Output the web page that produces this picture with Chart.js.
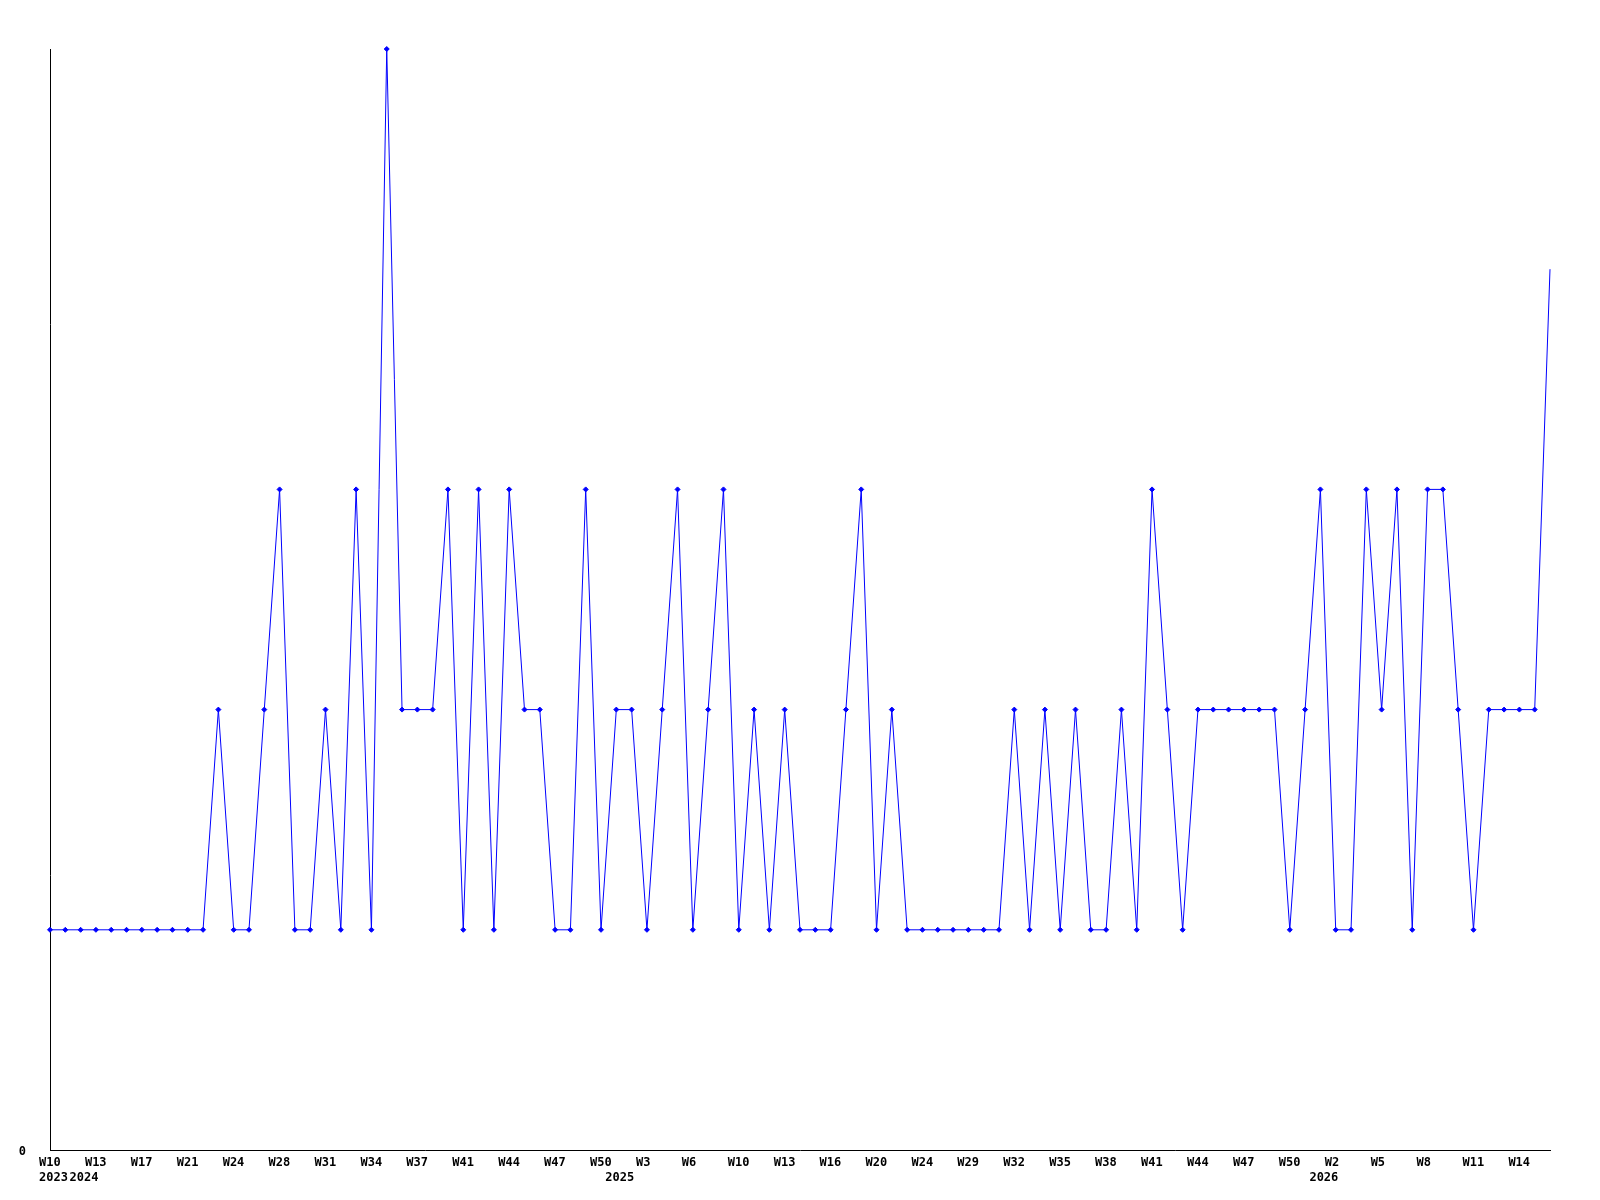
<!DOCTYPE html>
<html>
<head>
<meta charset="utf-8">
<script src="https://cdn.jsdelivr.net/npm/chart.js@4.4.1/dist/chart.umd.min.js"></script>
<style>
  html, body { margin: 0; padding: 0; background: #fff; }
  #chart { display: block; }
</style>
</head>
<body>
<canvas id="chart" width="1600" height="1200"></canvas>
<script>
// one entry per data point, ISO year + week
const periods = [
    '2023-W10', '2023-W45', '2024-W12', '2024-W13', '2024-W14', '2024-W16', '2024-W17', '2024-W18', '2024-W19', '2024-W21',
    '2024-W22', '2024-W23', '2024-W24', '2024-W26', '2024-W27', '2024-W28', '2024-W29', '2024-W30', '2024-W31', '2024-W32',
    '2024-W33', '2024-W34', '2024-W35', '2024-W36', '2024-W37', '2024-W38', '2024-W39', '2024-W41', '2024-W42', '2024-W43',
    '2024-W44', '2024-W45', '2024-W46', '2024-W47', '2024-W48', '2024-W49', '2024-W50', '2025-W1', '2025-W2', '2025-W3',
    '2025-W4', '2025-W5', '2025-W6', '2025-W8', '2025-W9', '2025-W10', '2025-W11', '2025-W12', '2025-W13', '2025-W14',
    '2025-W15', '2025-W16', '2025-W17', '2025-W19', '2025-W20', '2025-W21', '2025-W23', '2025-W24', '2025-W26', '2025-W27',
    '2025-W29', '2025-W30', '2025-W31', '2025-W32', '2025-W33', '2025-W34', '2025-W35', '2025-W36', '2025-W37', '2025-W38',
    '2025-W39', '2025-W40', '2025-W41', '2025-W42', '2025-W43', '2025-W44', '2025-W45', '2025-W46', '2025-W47', '2025-W48',
    '2025-W49', '2025-W50', '2025-W51', '2026-W1', '2026-W2', '2026-W3', '2026-W4', '2026-W5', '2026-W6', '2026-W7',
    '2026-W8', '2026-W9', '2026-W10', '2026-W11', '2026-W12', '2026-W13', '2026-W14', '2026-W15', '2026-W16'
];

const counts = [
    1, 1, 1, 1, 1, 1, 1, 1, 1, 1,
    1, 2, 1, 1, 2, 3, 1, 1, 2, 1,
    3, 1, 5, 2, 2, 2, 3, 1, 3, 1,
    3, 2, 2, 1, 1, 3, 1, 2, 2, 1,
    2, 3, 1, 2, 3, 1, 2, 1, 2, 1,
    1, 1, 2, 3, 1, 2, 1, 1, 1, 1,
    1, 1, 1, 2, 1, 2, 1, 2, 1, 1,
    2, 1, 3, 2, 1, 2, 2, 2, 2, 2,
    2, 1, 2, 3, 1, 1, 3, 2, 3, 1,
    3, 3, 2, 1, 2, 2, 2, 2, 4
];

const yTicks = [0];
const yMax = 5;
const labelEvery = 3;

const weekLabels = periods.map(p => p.split('-')[1]);
const yearLabels = periods.map(p => p.split('-')[0]);

// year only shown where it changes
function yearTick(i) {
    if (i === 0 || yearLabels[i] !== yearLabels[i - 1]) return yearLabels[i];
    return '';
}

const tickFont = { family: 'DejaVu Sans Mono', size: 12, weight: 'bold' };

// last point has no marker in the original
const radii = counts.map((v, i) => i === counts.length - 1 ? 0 : 2.5);

new Chart(document.getElementById('chart').getContext('2d'), {
    type: 'line',
    data: {
        labels: weekLabels,
        datasets: [{
            data: counts,
            borderColor: '#0000ff',
            backgroundColor: '#0000ff',
            borderWidth: 1,
            pointStyle: 'rectRot',
            pointRadius: radii,
            pointBorderWidth: 1,
            pointBackgroundColor: '#0000ff',
            pointBorderColor: '#0000ff',
            tension: 0,
            fill: false,
            clip: false
        }]
    },
    options: {
        responsive: false,
        animation: false,
        layout: { padding: { left: 0, right: 50, top: 49, bottom: 0 } },
        plugins: {
            legend: { display: false },
            tooltip: { enabled: false }
        },
        scales: {
            x: {
                type: 'category',
                position: 'bottom',
                weight: 0,
                offset: false,
                grid: { display: false, drawTicks: false },
                border: { display: true, color: '#000', width: 1 },
                ticks: {
                    autoSkip: false,
                    maxRotation: 0,
                    minRotation: 0,
                    align: 'start',
                    labelOffset: -11,
                    padding: 6,
                    color: '#000',
                    font: tickFont,
                    callback: (v, i) => i % labelEvery === 0 ? weekLabels[i] : ''
                },
                afterFit: s => { s.height = 20; }
            },
            x2: {
                type: 'category',
                position: 'bottom',
                weight: 1,
                offset: false,
                labels: yearLabels,
                grid: { display: false, drawTicks: false },
                border: { display: false },
                ticks: {
                    autoSkip: false,
                    maxRotation: 0,
                    minRotation: 0,
                    align: 'start',
                    labelOffset: -11,
                    padding: 1,
                    color: '#000',
                    font: tickFont,
                    callback: (v, i) => yearTick(i)
                },
                afterFit: s => { s.height = 30; }
            },
            y: {
                min: 0,
                max: yMax,
                grid: { display: false, drawTicks: false },
                border: { display: true, color: '#000', width: 1 },
                afterBuildTicks: s => { s.ticks = yTicks.map(v => ({ value: v })); },
                ticks: {
                    padding: 24,
                    labelOffset: 2,
                    color: '#000',
                    font: tickFont
                },
                afterFit: s => { s.width = 50; }
            }
        }
    }
});
</script>
</body>
</html>
